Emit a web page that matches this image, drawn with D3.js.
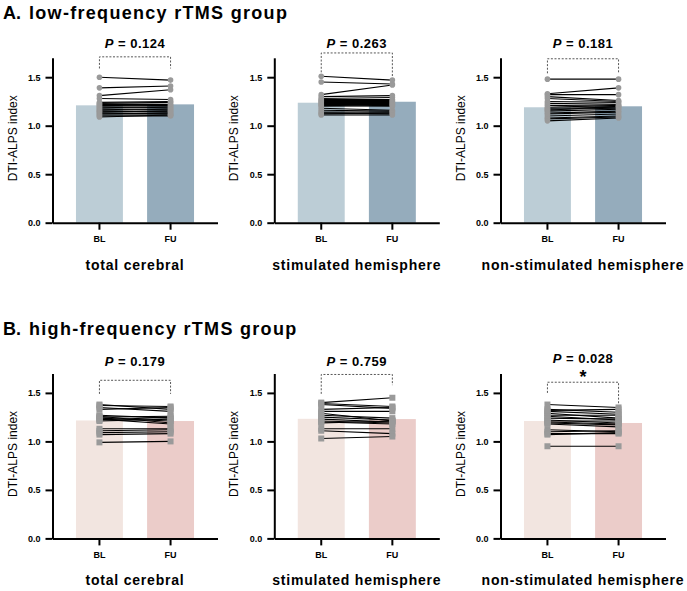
<!DOCTYPE html>
<html>
<head>
<meta charset="utf-8">
<script src="https://cdn.jsdelivr.net/npm/d3@7"></script>
<style>
  body { margin: 0; background: #fff; }
  text { font-family: "Liberation Sans", Arial, sans-serif; }
</style>
</head>
<body>
<script>
// categories and labels
const groupTitles = ["A.", "B."];
const groupNames = ["low-frequency rTMS group", "high-frequency rTMS group"];
const regions = ["total cerebral", "stimulated hemisphere", "non-stimulated hemisphere"];
const timepoints = ["BL", "FU"];
const yTicks = [0, 0.5, 1.0, 1.5];
const pValues = [["0.124", "0.263", "0.181"], ["0.179", "0.759", "0.028"]];
const stars = [["", "", ""], ["", "", "*"]];

// bar heights (group means)
const lowMeanBL = [1.21, 1.237, 1.19];
const lowMeanFU = [1.22, 1.247, 1.20];
const highMeanBL = [1.216, 1.233, 1.21];
const highMeanFU = [1.21, 1.23, 1.19];

// individual subjects, low-frequency group
const lowTotalBL = [1.50, 1.39, 1.31, 1.28, 1.24, 1.23, 1.22, 1.21, 1.20, 1.19, 1.18, 1.17, 1.16, 1.15, 1.14, 1.13, 1.12, 1.11, 1.10, 1.09];
const lowTotalFU = [1.47, 1.41, 1.37, 1.27, 1.25, 1.24, 1.22, 1.20, 1.21, 1.18, 1.19, 1.16, 1.17, 1.14, 1.15, 1.12, 1.13, 1.11, 1.10, 1.11];
const lowStimBL = [1.51, 1.45, 1.32, 1.30, 1.28, 1.27, 1.26, 1.25, 1.24, 1.23, 1.22, 1.21, 1.20, 1.18, 1.16, 1.14, 1.13, 1.12, 1.11];
const lowStimFU = [1.47, 1.43, 1.42, 1.31, 1.29, 1.27, 1.26, 1.25, 1.24, 1.23, 1.22, 1.20, 1.21, 1.16, 1.15, 1.14, 1.12, 1.13, 1.11];
const lowNonBL = [1.48, 1.33, 1.32, 1.30, 1.28, 1.25, 1.23, 1.21, 1.19, 1.18, 1.17, 1.16, 1.15, 1.13, 1.12, 1.10, 1.08, 1.07, 1.05];
const lowNonFU = [1.48, 1.39, 1.32, 1.26, 1.25, 1.24, 1.22, 1.20, 1.21, 1.19, 1.18, 1.20, 1.17, 1.15, 1.14, 1.12, 1.10, 1.09, 1.08];

// individual subjects, high-frequency group
const highTotalBL = [1.38, 1.37, 1.35, 1.33, 1.27, 1.26, 1.25, 1.24, 1.23, 1.22, 1.21, 1.13, 1.11, 1.09, 1.07, 0.99];
const highTotalFU = [1.33, 1.36, 1.31, 1.35, 1.24, 1.19, 1.26, 1.21, 1.18, 1.25, 1.23, 1.13, 1.12, 1.10, 1.08, 1.00];
const highStimBL = [1.40, 1.39, 1.38, 1.33, 1.31, 1.29, 1.27, 1.25, 1.23, 1.21, 1.20, 1.19, 1.13, 1.11, 1.03];
const highStimFU = [1.45, 1.36, 1.34, 1.35, 1.31, 1.21, 1.24, 1.22, 1.20, 1.19, 1.18, 1.21, 1.13, 1.08, 1.05];
const highNonBL = [1.38, 1.33, 1.32, 1.31, 1.29, 1.27, 1.26, 1.24, 1.22, 1.21, 1.20, 1.19, 1.18, 1.12, 1.10, 1.08, 1.07, 0.95];
const highNonFU = [1.35, 1.30, 1.33, 1.28, 1.24, 1.27, 1.22, 1.23, 1.19, 1.21, 1.18, 1.17, 1.15, 1.10, 1.11, 1.08, 1.09, 0.95];

// significance bracket: top, left leg end, right leg end
const bracketTop = [[1.71, 1.75, 1.69], [1.63, 1.69, 1.61]];
const bracketBL = [[1.59, 1.55, 1.54], [1.49, 1.49, 1.50]];
const bracketFU = [[1.59, 1.50, 1.54], [1.49, 1.58, 1.39]];

const subjects = [
    [[lowTotalBL, lowTotalFU], [lowStimBL, lowStimFU], [lowNonBL, lowNonFU]],
    [[highTotalBL, highTotalFU], [highStimBL, highStimFU], [highNonBL, highNonFU]]
];
const means = [[lowMeanBL, lowMeanFU], [highMeanBL, highMeanFU]];

// layout
const width = 687, height = 591;
const panelX = [52.5, 274.3, 500.5];
const rowY = [57.8, 373.5];
const chartW = 165, chartH = 164.9;
const barColors = [["#bccdd6", "#95acbc"], ["#f2e5e0", "#ebccc9"]];

const svg = d3.select("body").append("svg")
    .attr("width", width)
    .attr("height", height);

const x = d3.scaleBand().domain(timepoints).range([0, chartW]).paddingInner(0.34).paddingOuter(0.33);
const y = d3.scaleLinear().domain([0, 1.7]).range([chartH, 0]);

groupTitles.forEach((g, gi) => {
    const title = svg.append("text")
        .attr("x", 3)
        .attr("y", rowY[gi] - 39)
        .style("font-size", "18px")
        .style("font-weight", "bold");
    title.append("tspan").text(g);
    title.append("tspan").attr("dx", 8).style("letter-spacing", "1.3px").text(groupNames[gi]);

    regions.forEach((r, ri) => {
        const g0 = svg.append("g")
            .attr("transform", `translate(${panelX[ri]},${rowY[gi]})`);

        // bars
        g0.selectAll("rect.bar")
            .data(timepoints)
            .join("rect")
            .attr("class", "bar")
            .attr("x", d => x(d))
            .attr("width", x.bandwidth())
            .attr("y", (d, i) => y(means[gi][i][ri]))
            .attr("height", (d, i) => chartH - y(means[gi][i][ri]))
            .attr("fill", (d, i) => barColors[gi][i]);

        // paired lines
        const bl = subjects[gi][ri][0], fu = subjects[gi][ri][1];
        const pairs = bl.map((v, i) => [v, fu[i]]);
        const cx0 = x("BL") + x.bandwidth() / 2;
        const cx1 = x("FU") + x.bandwidth() / 2;
        g0.selectAll("line.pair")
            .data(pairs)
            .join("line")
            .attr("class", "pair")
            .attr("x1", cx0).attr("x2", cx1)
            .attr("y1", d => y(d[0])).attr("y2", d => y(d[1]))
            .attr("stroke", "#000")
            .attr("stroke-width", 1.1);

        // points
        const pts = [];
        pairs.forEach(p => { pts.push([cx0, p[0]]); pts.push([cx1, p[1]]); });
        if (gi === 0) {
            g0.selectAll("circle.pt")
                .data(pts)
                .join("circle")
                .attr("class", "pt")
                .attr("cx", d => d[0])
                .attr("cy", d => y(d[1]))
                .attr("r", 2.8)
                .attr("fill", "#9a9a9a");
        } else {
            g0.selectAll("rect.pt")
                .data(pts)
                .join("rect")
                .attr("class", "pt")
                .attr("x", d => d[0] - 3)
                .attr("y", d => y(d[1]) - 3)
                .attr("width", 6)
                .attr("height", 6)
                .attr("fill", "#9a9a9a");
        }

        // bracket
        const bp = d3.path();
        bp.moveTo(cx0, y(bracketBL[gi][ri]));
        bp.lineTo(cx0, y(bracketTop[gi][ri]));
        bp.lineTo(cx1, y(bracketTop[gi][ri]));
        bp.lineTo(cx1, y(bracketFU[gi][ri]));
        g0.append("path")
            .attr("d", bp.toString())
            .attr("fill", "none")
            .attr("stroke", "#444")
            .attr("stroke-width", 0.9)
            .attr("stroke-dasharray", "2,1.6");

        // axes
        const yAxis = g0.append("g")
            .call(d3.axisLeft(y).tickValues(yTicks).tickFormat(d3.format(".1f")).tickSize(7).tickSizeOuter(0).tickPadding(5));
        const xAxis = g0.append("g")
            .attr("transform", `translate(0,${chartH})`)
            .call(d3.axisBottom(x).tickSize(7).tickSizeOuter(0).tickPadding(6));
        [yAxis, xAxis].forEach(a => {
            a.select(".domain").attr("stroke", "#000").attr("stroke-width", 2);
            a.selectAll(".tick line").attr("stroke", "#000").attr("stroke-width", 2);
            a.selectAll(".tick text")
                .attr("fill", "#000")
                .style("font-family", "'Liberation Sans', Arial, sans-serif")
                .style("font-size", "9px")
                .style("font-weight", "bold");
        });

        // y label
        g0.append("text")
            .attr("transform", `translate(${-36},${chartH / 2 - 2}) rotate(-90)`)
            .attr("text-anchor", "middle")
            .style("font-size", "12px")
            .text("DTI-ALPS index");

        // x title
        g0.append("text")
            .attr("x", chartW / 2)
            .attr("y", chartH + 47)
            .attr("text-anchor", "middle")
            .style("font-size", "14px")
            .style("font-weight", "bold")
            .style("letter-spacing", "0.8px")
            .text(r);

        // P value and star
        const hasStar = stars[gi][ri] !== "";
        const pt = g0.append("text")
            .attr("x", chartW / 2)
            .attr("y", (gi === 0 ? -10.3 : -7.8) - (hasStar ? 3 : 0))
            .attr("text-anchor", "middle")
            .style("font-size", "13px")
            .style("font-weight", "bold")
            .style("letter-spacing", "0.5px");
        pt.append("tspan").style("font-style", "italic").text("P");
        pt.append("tspan").text(" = " + pValues[gi][ri]);
        if (hasStar) {
            g0.append("text")
                .attr("x", chartW / 2)
                .attr("y", 9)
                .attr("text-anchor", "middle")
                .style("font-size", "18px")
                .style("font-weight", "bold")
                .text(stars[gi][ri]);
        }
    });
});
</script>
</body>
</html>
